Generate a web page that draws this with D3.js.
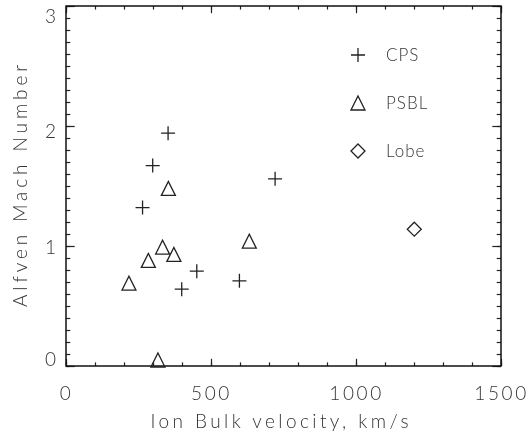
<!DOCTYPE html>
<html>
<head>
<meta charset="utf-8">
<script src="https://cdn.jsdelivr.net/npm/d3@7"></script>
<style>
  body { margin: 0; background: #fff; }
  svg { display: block; }
  text { font-family: Lato, "Liberation Sans", Arial, sans-serif; font-weight: 300; fill: #333; }
  .labels { opacity: 0.99; }
</style>
</head>
<body>
<div id="chart"></div>
<script>
// velocities (km/s) and Alfven Mach numbers
const cpsV   = [352, 299, 264, 399, 451, 598, 721];
const cpsM   = [1.94, 1.67, 1.32, 0.64, 0.79, 0.71, 1.56];
const psblV  = [353, 217, 284, 333, 372, 632, 317];
const psblM  = [1.48, 0.69, 0.88, 0.99, 0.93, 1.04, 0.05];
const lobeV  = [1201];
const lobeM  = [1.14];

const xTicks = [0, 500, 1000, 1500];
const yTicks = [0, 1, 2, 3];
const legendLabels = ["CPS", "PSBL", "Lobe"];

const width = 530, height = 437;
const margin = { top: 6, right: 29, bottom: 71, left: 66 };
const innerWidth  = width  - margin.left - margin.right;
const innerHeight = height - margin.top  - margin.bottom;

const svg = d3.select("#chart")
  .append("svg")
    .attr("width", width)
    .attr("height", height);

const g = svg.append("g")
    .attr("transform", `translate(${margin.left},${margin.top})`);
const labels = g.append("g").attr("class", "labels");

const x = d3.scaleLinear().domain([0, 1500]).range([0, innerWidth]);
const y = d3.scaleLinear().domain([0, 3]).range([innerHeight, 0]);

const xMinor = d3.range(0, 1501, 100);
const yMinor = d3.range(0, 3.001, 0.1);

const xMaj = 7.2, xMin = 3.6, yMaj = 8.7, yMin = 4.3;

function styleAxis(sel) {
  sel.selectAll("path").remove();
  sel.selectAll("text").remove();
  sel.selectAll("line").attr("stroke", "#222").attr("stroke-width", 1.2);
}

// ticks on all four sides, pointing inward
[[xMinor, xMin, yMinor, yMin], [xTicks, xMaj, yTicks, yMaj]].forEach(([xv, xl, yv, yl]) => {
  g.append("g").attr("transform", `translate(0,${innerHeight})`)
    .call(d3.axisTop(x).tickValues(xv).tickSize(xl))
    .call(styleAxis);
  g.append("g")
    .call(d3.axisBottom(x).tickValues(xv).tickSize(xl))
    .call(styleAxis);
  g.append("g")
    .call(d3.axisRight(y).tickValues(yv).tickSize(yl))
    .call(styleAxis);
  g.append("g").attr("transform", `translate(${innerWidth},0)`)
    .call(d3.axisLeft(y).tickValues(yv).tickSize(yl))
    .call(styleAxis);
});

// tick labels
labels.append("g").attr("transform", `translate(0,${innerHeight})`)
  .call(d3.axisBottom(x).tickValues(xTicks).tickSize(0).tickPadding(21).tickFormat(d3.format("d")))
  .call(sel => sel.select("path").remove())
  .call(sel => sel.selectAll("text")
      .style("font-size", "19px").style("letter-spacing", "2.6px").attr("fill", "#333"));

const yDy = { 0: "-0.05em", 1: "0.42em", 2: "0.58em", 3: "0.85em" };
labels.append("g")
  .call(d3.axisLeft(y).tickValues(yTicks).tickSize(0).tickPadding(10).tickFormat(d3.format("d")))
  .call(sel => sel.select("path").remove())
  .call(sel => sel.selectAll("text")
      .style("font-size", "19px").attr("fill", "#333")
      .attr("dy", d => yDy[d]));

// frame
g.append("rect")
  .attr("width", innerWidth).attr("height", innerHeight)
  .attr("fill", "none").attr("stroke", "#111").attr("stroke-width", 1.5);

// axis titles
labels.append("text")
  .attr("x", innerWidth / 2 - 4)
  .attr("y", innerHeight + 62)
  .attr("text-anchor", "middle")
  .attr("textLength", 258)
  .attr("lengthAdjust", "spacing")
  .style("font-size", "19px")
  .text("Ion Bulk velocity, km/s");

labels.append("text")
  .attr("transform", "rotate(-90)")
  .attr("x", -innerHeight / 2)
  .attr("y", -39)
  .attr("text-anchor", "middle")
  .attr("textLength", 242)
  .attr("lengthAdjust", "spacing")
  .style("font-size", "19px")
  .text("Alfven Mach Number");

// markers
const s = 7;
const plus = `M${-s},0H${s}M0,${-s}V${s}`;
const tri  = `M${-s},${s}L0,${-s}L${s},${s}Z`;
const dia  = `M0,${-s}L${s},0L0,${s}L${-s},0Z`;

const markerStyle = sel => sel
  .attr("fill", "none").attr("stroke", "#222").attr("stroke-width", 1.3);

[[cpsV, cpsM, plus], [psblV, psblM, tri], [lobeV, lobeM, dia]].forEach(([vs, ms, shape]) => {
  g.append("g").selectAll("path")
    .data(d3.zip(vs, ms))
    .join("path")
      .attr("d", shape)
      .attr("transform", d => `translate(${x(d[0])},${y(d[1])})`)
      .call(markerStyle);
});

// legend
const legendShapes = [plus, tri, dia];
const legend = g.append("g")
  .attr("transform", `translate(${x(1000) + 2},${49})`)
  .selectAll("g")
  .data(legendLabels)
  .join("g")
    .attr("transform", (d, i) => `translate(0,${i * 48})`);

legend.append("path")
  .attr("d", (d, i) => legendShapes[i])
  .call(markerStyle);

legend.append("text")
  .attr("x", 28)
  .attr("dy", "0.35em")
  .attr("class", "labels")
  .style("font-size", "17px")
  .style("letter-spacing", "1px")
  .text(d => d);
</script>
</body>
</html>
